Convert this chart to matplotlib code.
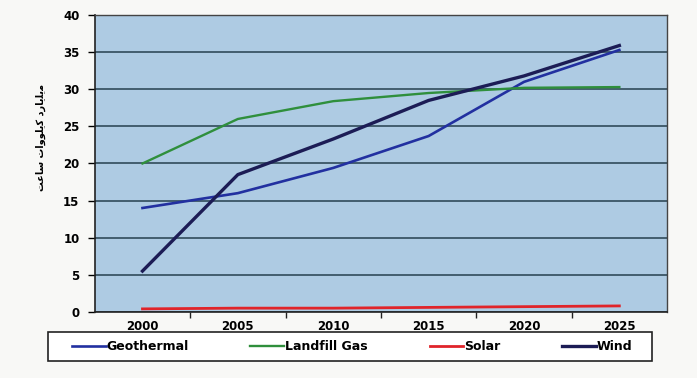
import numpy as np
import matplotlib
matplotlib.use("Agg")
import matplotlib.pyplot as plt
from matplotlib.patches import Rectangle

years = ["2000", "2005", "2010", "2015", "2020", "2025"]
geothermal = [14.0, 16.0, 19.4, 23.7, 31.0, 35.3]
landfill_gas = [20.0, 26.0, 28.4, 29.5, 30.2, 30.3]
solar = [0.4, 0.5, 0.5, 0.6, 0.7, 0.8]
wind = [5.5, 18.5, 23.3, 28.5, 31.8, 35.9]

# "billion kilowatt hours", written in presentation forms and visual order
# since matplotlib does no Arabic shaping
ylabel_forms = [0xFEE3, 0xFBFE, 0xFEE0, 0xFBFE, 0xFE8E, 0xFEAD, 0xFEA9, 0x20,
                0xFB90, 0xFBFE, 0xFEE0, 0xFEEE, 0xFEED, 0xFE8D, 0xFE95, 0x20,
                0xFEB3, 0xFE8E, 0xFECB, 0xFE96]
ylabel_text = "".join(chr(c) for c in reversed(ylabel_forms))

plt.rcParams['font.family'] = ['DejaVu Sans']

fig = plt.figure(figsize=(6.97, 3.78), dpi=100)
fig.patch.set_facecolor('#f8f8f6')
ax = fig.add_axes([0.136, 0.175, 0.821, 0.785])
ax.set_facecolor('#aecbe3')

x = np.arange(len(years))
ax.plot(x, geothermal, color='#2230a0', lw=1.9, label='Geothermal', zorder=3)
ax.plot(x, landfill_gas, color='#2f8f3c', lw=1.7, label='Landfill Gas', zorder=3)
ax.plot(x, solar, color='#e0242a', lw=2.0, label='Solar', zorder=3)
ax.plot(x, wind, color='#1c1c55', lw=2.4, label='Wind', zorder=4)

ax.set_xlim(-0.5, len(years) - 0.5)
ax.set_ylim(0, 40)
ax.set_yticks(np.arange(0, 41, 5))
ax.yaxis.grid(True, color='#26404f', lw=1.1)
ax.set_axisbelow(True)

ax.set_xticks(x)
ax.set_xticklabels(years, fontweight='bold', fontsize=8.5)
ax.set_xticks(np.arange(0.5, len(years) - 0.5), minor=True)
ax.tick_params(axis='x', which='major', length=0, pad=6)
ax.tick_params(axis='x', which='minor', length=4, width=1, color='#222222')
ax.tick_params(axis='y', length=5, width=1, pad=6)
for lbl in ax.get_yticklabels():
    lbl.set_fontweight('bold')
    lbl.set_fontsize(8.5)

for side in ['left', 'bottom']:
    ax.spines[side].set_color('#222222')
    ax.spines[side].set_linewidth(1.2)
for side in ['top', 'right']:
    ax.spines[side].set_color('#444444')
    ax.spines[side].set_linewidth(1.0)

fig.text(0.059, 0.635, ylabel_text, rotation=90, ha='center', va='center',
         fontsize=7, fontweight='bold')

# legend box spans wider than its entries
fig.add_artist(Rectangle((0.069, 0.045), 0.867, 0.077, transform=fig.transFigure,
                         facecolor='white', edgecolor='#222222', lw=1.2))
fig.legend(loc='center', bbox_to_anchor=(0.103, 0.045, 0.804, 0.077),
           ncol=4, mode='expand', frameon=False,
           handlelength=2.7, handletextpad=0.05, borderaxespad=0, borderpad=0,
           prop={'weight': 'bold', 'size': 9})

fig.savefig('out.png', dpi=100, facecolor=fig.get_facecolor())
